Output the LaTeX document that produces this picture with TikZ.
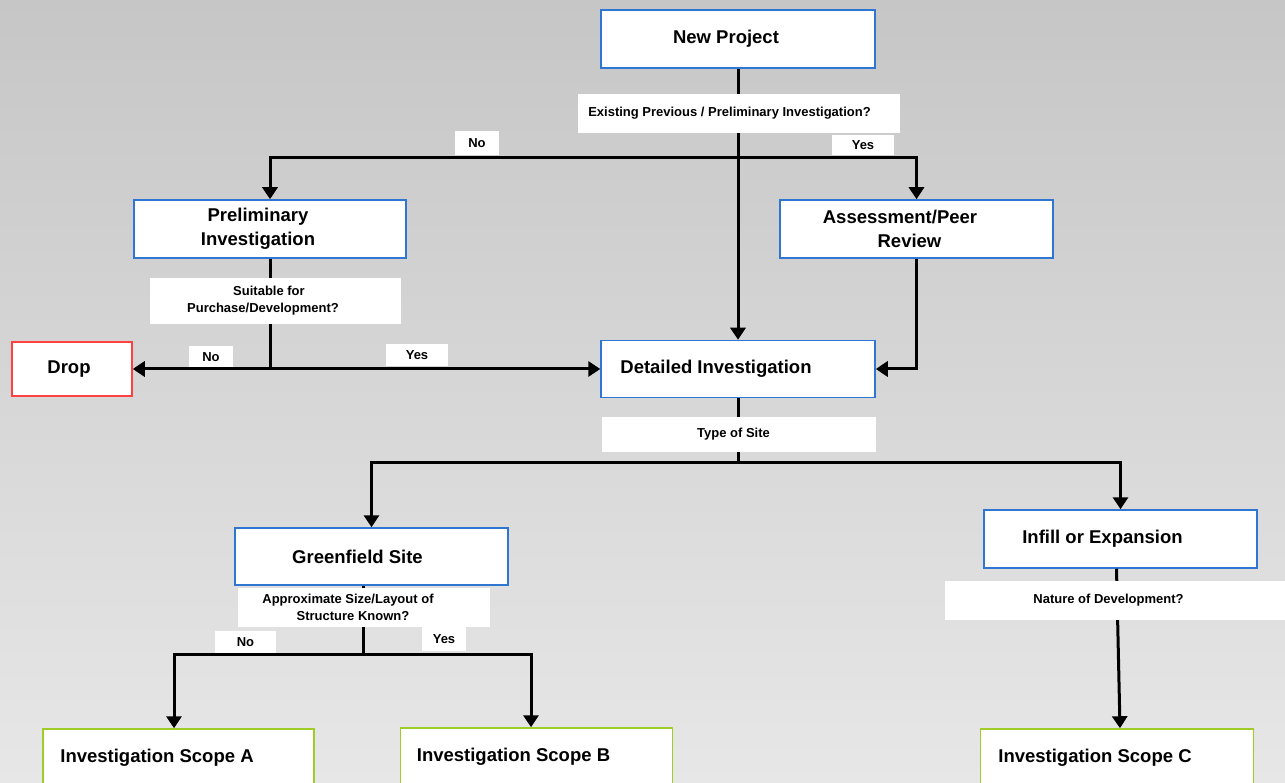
\documentclass[tikz,border=0pt]{standalone}
\usepackage{fontspec}
\setmainfont{Liberation Sans}
\usetikzlibrary{arrows.meta}
\usepackage{xcolor}

\definecolor{boxblue}{RGB}{47,118,210}
\definecolor{dropred}{RGB}{255,64,64}
\definecolor{scopegreen}{RGB}{160,204,40}
\definecolor{bgtop}{RGB}{198,198,198}
\definecolor{bgbot}{RGB}{231,231,231}

\begin{document}
\begin{tikzpicture}[
    x=1pt, y=-1pt,
    font=\bfseries,
    >={Triangle[width=15pt,length=12pt]},
    box/.style={draw=boxblue, line width=1.5pt, fill=white, inner sep=0pt, align=center,
        minimum width=273pt, minimum height=58pt, font=\fontsize{18.5}{24}\selectfont\bfseries},
    dropbox/.style={box, draw=dropred, minimum width=120pt, minimum height=54pt},
    scopebox/.style={box, draw=scopegreen},
    question/.style={fill=white, inner sep=0pt, align=center, font=\fontsize{13}{17}\selectfont\bfseries},
    answer/.style={question, minimum height=22pt},
    arrow/.style={->, line width=3pt},
    link/.style={line width=3pt}
]

\useasboundingbox (0,0) rectangle (1285,783);
\fill[top color=bgtop, bottom color=bgbot] (0,0) rectangle (1285,783);

% --- Boxes ---
\node[box, minimum width=274pt] (newp) at (738,39) {New Project\hspace*{24pt}};
\node[box, minimum width=272pt] (prelim) at (270,229) {Preliminary\hspace*{24pt}\\Investigation\hspace*{24pt}};
\node[box] (assess) at (916.5,229) {Assessment/Peer\hspace*{33pt}\\Review\hspace*{14pt}};
\node[dropbox] (drop) at (72,369) {Drop\hspace*{6pt}};
\node[box, minimum width=274pt, minimum height=57pt] (detail) at (738,369) {Detailed Investigation\hspace*{44pt}};
\node[box, minimum height=57pt] (green) at (371.5,556.5) {Greenfield Site\hspace*{28pt}};
\node[box] (infill) at (1120.5,539) {Infill or Expansion\hspace*{36pt}};
\node[scopebox, minimum width=271pt] (scopeA) at (178.5,758) {Investigation Scope A\hspace*{43pt}};
\node[scopebox, minimum width=272pt] (scopeB) at (536.5,757) {Investigation Scope B\hspace*{46pt}};
\node[scopebox] (scopeC) at (1117,758) {Investigation Scope C\hspace*{44pt}};

% --- Connectors ---
\coordinate (jtop) at (738,158);
\coordinate (jmid) at (270,369);
\coordinate (jsite) at (738,462);
\coordinate (jsize) at (363,654);

\draw[arrow] (newp) -- (detail);
\draw[arrow] (jtop) -| (prelim);
\draw[arrow] (jtop) -| (assess);

\draw[link] (prelim) -- (jmid);
\draw[arrow] (jmid) -- (drop);
\draw[arrow] (jmid) -- (detail);
\draw[arrow] (assess) |- (detail);

\draw[link] (detail) -- (jsite);
\draw[arrow] (jsite) -| (green);
\draw[arrow] (jsite) -| (infill);

\draw[link] (green.south -| jsize) -- (jsize);
\draw[arrow] (jsize) -| ([xshift=-4.5pt]scopeA.north);
\draw[arrow] (jsize) -| ([xshift=-5.5pt]scopeB.north);
\draw[arrow] ([xshift=-4pt]infill.south) -- ([xshift=3pt]scopeC.north);

% --- Questions and answers ---
\node[question, minimum width=322pt, minimum height=39pt] (qexist) at (739,113.5) {Existing Previous / Preliminary Investigation?\hspace*{19pt}};
\node[answer, minimum width=44pt, minimum height=24pt] (no1) at (477,143) {No};
\node[answer, minimum width=62pt, minimum height=20pt] (yes1) at (863,145) {Yes};

\node[question, minimum width=251pt, minimum height=46pt] (qsuit) at (275,301) {Suitable for\hspace*{12pt}\\Purchase/Development?\hspace*{24pt}};
\node[answer, minimum width=44pt, minimum height=21pt] (no2) at (211,357) {No};
\node[answer, minimum width=62pt] (yes2) at (417,355) {Yes};

\node[question, minimum width=274pt, minimum height=35pt] (qtype) at (739,434) {Type of Site\hspace*{11pt}};

\node[question, minimum width=252pt, minimum height=39pt] (qsize) at (364,607) {Approximate Size/Layout of\hspace*{32pt}\\Structure Known?\hspace*{22pt}};
\node[answer, minimum width=61pt] (no3) at (245.5,642) {No};
\node[answer, minimum width=44pt, minimum height=24pt] (yes3) at (444,639) {Yes};

\node[question, minimum width=340pt, minimum height=39pt] (qnature) at (1115,600) {Nature of Development?\hspace*{13pt}};

\end{tikzpicture}
\end{document}
